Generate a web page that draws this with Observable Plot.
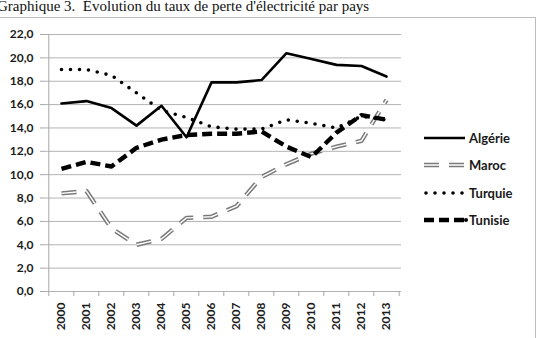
<!DOCTYPE html>
<html><head><meta charset="utf-8">
<script src="https://cdn.jsdelivr.net/npm/d3@7"></script>
<script src="https://cdn.jsdelivr.net/npm/@observablehq/plot@0.6"></script>
<style>
body{margin:0;background:#fff;width:544px;height:338px;overflow:hidden;position:relative}
#title{position:absolute;left:-3px;top:-2px;font-family:"Liberation Serif","Times New Roman",serif;font-size:15px;white-space:pre;color:#111}
#box{position:absolute;left:-10px;top:17px;width:546px;height:340px;border:1px solid #bdbdbd;box-sizing:border-box}
#chart{position:absolute;left:0;top:17px}
</style></head><body>
<div id="title">Graphique 3.  Évolution du taux de perte d'électricité par pays</div>
<div id="box"></div>
<div id="chart"></div>
<script>
const years = ["2000","2001","2002","2003","2004","2005","2006","2007","2008","2009","2010","2011","2012","2013"];
const algerie = [16.1,16.3,15.7,14.2,15.9,13.2,17.9,17.9,18.1,20.4,19.9,19.4,19.3,18.4];
const maroc   = [8.4,8.6,5.4,4.0,4.5,6.3,6.4,7.3,9.8,10.9,11.8,12.4,12.9,16.4];
const turquie = [19.0,19.0,18.5,17.0,15.5,14.9,14.1,13.9,13.9,14.7,14.4,14.0,15.0,14.7];
const tunisie = [10.5,11.1,10.7,12.3,13.0,13.4,13.5,13.5,13.7,12.4,11.5,13.6,15.1,14.7];
const yTicks = [0,2,4,6,8,10,12,14,16,18,20,22];
const seriesNames = ["Algérie","Maroc","Turquie","Tunisie"];

const W = 544, H = 321, mL = 45, mR = 143, mT = 17, mB = 47;
const step = (W - mL - mR) / years.length;
const fmt = d => d3.format(".1f")(d).replace(".", ",");
const rows = vals => years.map((y, i) => ({year: y, v: vals[i]}));
const axisGray = "#a8a8a8";

const chart = Plot.plot({
  width: W, height: H, marginTop: mT, marginBottom: mB, marginLeft: mL, marginRight: mR,
  style: {fontFamily: "Lato, 'Open Sans', sans-serif", fontWeight: "bold", fontSize: "12px", color: "#1a1a1a", background: "transparent"},
  x: {type: "point", domain: years, padding: 0.5, label: null},
  y: {domain: [0, 22], label: null},
  marks: [
    Plot.gridY(yTicks, {stroke: "#b3b3b3", strokeOpacity: 1}),
    Plot.ruleX([years[0]], {dx: -step / 2, stroke: axisGray}),
    Plot.axisY(yTicks, {tickSize: 5, tickPadding: 7, tickFormat: fmt, stroke: axisGray, label: null}),
    Plot.axisX(years, {tickSize: 5, dx: -step / 2, tickFormat: () => "", stroke: axisGray, label: null}),
    Plot.axisX([years[years.length - 1]], {tickSize: 5, dx: step / 2, tickFormat: () => "", stroke: axisGray, label: null}),
    Plot.axisX(years, {tickSize: 0, tickPadding: 11, tickRotate: -90, label: null}),
    Plot.line(rows(algerie), {x: "year", y: "v", stroke: "#000", strokeWidth: 2.6}),
    Plot.line(rows(maroc), {x: "year", y: "v", stroke: "#7a7a7a", strokeWidth: 4.4, strokeDasharray: "15,10", strokeLinecap: "butt"}),
    Plot.line(rows(maroc), {x: "year", y: "v", stroke: "#fff", strokeWidth: 1.4, strokeDasharray: "15,10", strokeLinecap: "butt"}),
    Plot.line(rows(turquie), {x: "year", y: "v", stroke: "#000", strokeWidth: 3.6, strokeDasharray: "0,9", strokeLinecap: "round"}),
    Plot.line(rows(tunisie), {x: "year", y: "v", stroke: "#000", strokeWidth: 4.4, strokeDasharray: "10,5", strokeLinecap: "butt"})
  ]
});
document.getElementById("chart").appendChild(chart);

// legend
const svg = d3.select(chart);
const lg = svg.append("g").attr("text-anchor", "start");
const legY = [121, 148, 176, 203];
const x0 = 424, x1 = 465;
const styles = [
  [{stroke: "#000", w: 2.6, dash: null, cap: "butt"}],
  [{stroke: "#7a7a7a", w: 4.4, dash: "15,10", cap: "butt"}, {stroke: "#fff", w: 1.4, dash: "15,10", cap: "butt"}],
  [{stroke: "#000", w: 3.6, dash: "0,9", cap: "round"}],
  [{stroke: "#000", w: 4.4, dash: "10,5", cap: "butt"}]
];
seriesNames.forEach((name, i) => {
  styles[i].forEach(s => {
    lg.append("line").attr("x1", x0 + (i === 2 ? 2 : 0)).attr("x2", x1).attr("y1", legY[i]).attr("y2", legY[i])
      .attr("stroke", s.stroke).attr("stroke-width", s.w).attr("stroke-linecap", s.cap)
      .attr("stroke-dasharray", s.dash);
  });
  if (i === 3) lg.append("circle").attr("cx", x1 + 1).attr("cy", legY[i]).attr("r", 2).attr("fill", "#000");
  lg.append("text").attr("x", x1 + 4).attr("y", legY[i]).attr("dy", "0.35em").attr("text-anchor", "start")
    .attr("font-family", "Lato, 'Open Sans', sans-serif").attr("font-weight", "bold").attr("font-size", 13)
    .attr("fill", "#1a1a1a").text(name);
});
</script>
</body></html>
